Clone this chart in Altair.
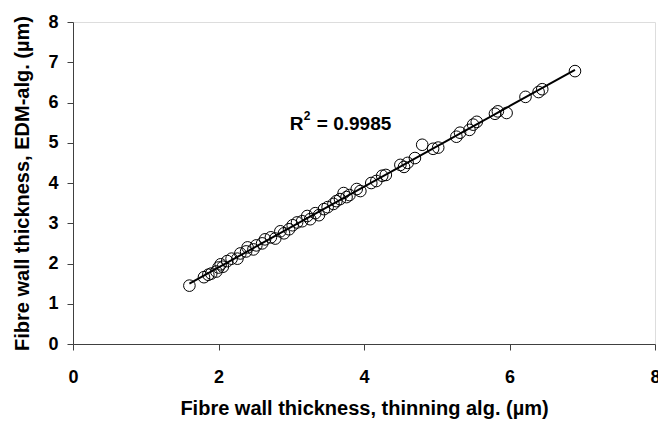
import altair as alt
import pandas as pd

thinning = [1.60, 1.80, 1.86, 1.90, 1.97, 2.00, 2.03, 2.06, 2.12, 2.18, 2.26, 2.30,
            2.38, 2.40, 2.48, 2.52, 2.60, 2.64, 2.72, 2.78, 2.85, 2.90, 2.97, 3.02,
            3.08, 3.15, 3.22, 3.26, 3.33, 3.38, 3.45, 3.50, 3.58, 3.62, 3.67, 3.72,
            3.76, 3.80, 3.90, 3.95, 4.10, 4.17, 4.25, 4.30, 4.50, 4.55, 4.60, 4.70,
            4.80, 4.95, 5.02, 5.27, 5.32, 5.45, 5.50, 5.55, 5.80, 5.84, 5.96, 6.22,
            6.40, 6.45, 6.90]
edm = [1.45, 1.66, 1.72, 1.75, 1.80, 1.90, 1.98, 1.92, 2.06, 2.12, 2.12, 2.25,
       2.30, 2.40, 2.35, 2.45, 2.50, 2.60, 2.65, 2.62, 2.80, 2.75, 2.85, 2.95,
       3.02, 3.05, 3.18, 3.10, 3.25, 3.20, 3.35, 3.40, 3.48, 3.55, 3.60, 3.75,
       3.65, 3.70, 3.85, 3.80, 4.00, 4.05, 4.18, 4.20, 4.45, 4.40, 4.50, 4.62,
       4.95, 4.85, 4.88, 5.15, 5.25, 5.32, 5.45, 5.52, 5.72, 5.78, 5.74, 6.14,
       6.26, 6.33, 6.78]

annot_x = [2.98]
annot_y = [5.47]
annot_base = ["R"]
annot_sup = ["2"]
annot_rest = ["= 0.9985"]

x_ticks = [0, 2, 4, 6, 8]
y_ticks = [0, 1, 2, 3, 4, 5, 6, 7, 8]

df = pd.DataFrame({"x": thinning, "y": edm})
ann = pd.DataFrame({"x": annot_x, "y": annot_y, "r": annot_base,
                    "s": annot_sup, "t": annot_rest})

FONT = "Liberation Sans"
AX = "#404040"

xs = alt.Scale(domain=[0, 8], nice=False, zero=True)
ys = alt.Scale(domain=[0, 8], nice=False, zero=True)

x_axis = alt.Axis(values=x_ticks, format="d", title="Fibre wall thickness, thinning alg. (µm)",
                  grid=False, domainColor=AX, tickColor=AX, tickSize=6,
                  labelFont=FONT, labelFontSize=18, labelFontWeight="bold",
                  labelColor="black", labelPadding=18, labelFlush=False,
                  titleFont=FONT, titleFontSize=20, titleFontWeight="bold",
                  titleColor="black", titlePadding=12)
y_axis = alt.Axis(values=y_ticks, format="d", title="Fibre wall thickness, EDM-alg. (µm)",
                  grid=False, domainColor=AX, tickColor=AX, tickSize=6,
                  labelFont=FONT, labelFontSize=18, labelFontWeight="bold",
                  labelColor="black", labelPadding=9, labelFlush=False,
                  titleFont=FONT, titleFontSize=20, titleFontWeight="bold",
                  titleColor="black", titlePadding=15)

points = alt.Chart(df).mark_point(shape="circle", filled=False, size=135,
                                  color="black", strokeWidth=1, opacity=1).encode(
    x=alt.X("x:Q", scale=xs, axis=x_axis),
    y=alt.Y("y:Q", scale=ys, axis=y_axis),
)

trend = alt.Chart(df).transform_regression("x", "y").mark_line(
    color="black", strokeWidth=2).encode(
    x=alt.X("x:Q", scale=xs),
    y=alt.Y("y:Q", scale=ys),
)

base_enc = dict(x=alt.X("x:Q", scale=xs), y=alt.Y("y:Q", scale=ys))

lab_r = alt.Chart(ann).mark_text(align="left", baseline="middle", font=FONT,
                                 fontSize=19, fontWeight="bold", color="black").encode(
    text="r:N", **base_enc)
lab_s = alt.Chart(ann).mark_text(align="left", baseline="middle", font=FONT,
                                 fontSize=12, fontWeight="bold", color="black",
                                 dx=14, dy=-8).encode(text="s:N", **base_enc)
lab_t = alt.Chart(ann).mark_text(align="left", baseline="middle", font=FONT,
                                 fontSize=19, fontWeight="bold", color="black",
                                 dx=27).encode(text="t:N", **base_enc)

chart = alt.layer(points, trend, lab_r, lab_s, lab_t).properties(
    width=582, height=322,
    autosize=alt.AutoSizeParams(type="none"),
    padding={"left": 73, "top": 22, "right": 3, "bottom": 82},
).configure_view(stroke=None).configure(background="white")

chart.save("out.html", embed_options={"renderer": "svg", "actions": False})
